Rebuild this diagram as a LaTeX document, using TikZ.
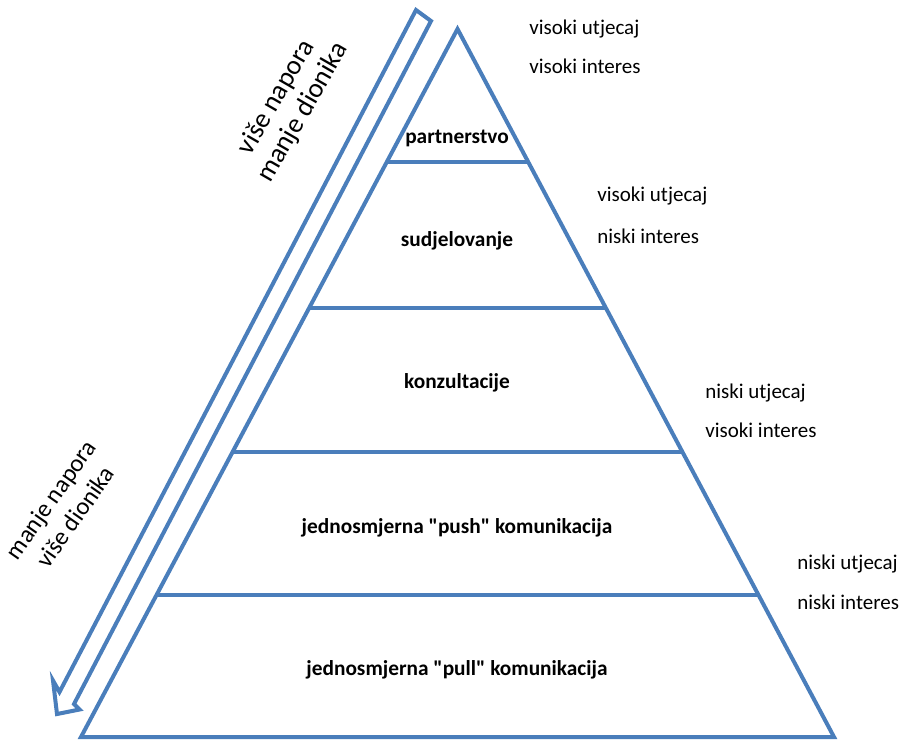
\documentclass[tikz,border=0pt]{standalone}
\usepackage{fontspec}
\setmainfont{Carlito}[Ligatures=TeXOff]
\usetikzlibrary{calc}
\definecolor{pyrblue}{HTML}{4A7EBB}
\begin{document}
\begin{tikzpicture}[x=0.75pt,y=-0.75pt,
  pyr/.style={draw=pyrblue,line width=3pt,line join=miter},
  arr/.style={draw=pyrblue,line width=3pt,line join=miter},
  level/.style={font=\bfseries\fontsize{16}{19}\selectfont,anchor=base,inner sep=0pt},
  side/.style={font=\fontsize{15.75}{19}\selectfont,anchor=base west,inner sep=0pt},
  diag/.style={align=center,inner sep=0pt},
]
\useasboundingbox (0,0) rectangle (912,743);
% pyramid
\coordinate (A) at (457.5,29);
\coordinate (BL) at (81,737);
\coordinate (BR) at (834,737);
\draw[pyr] (A) -- (BL) -- (BR) -- cycle;
\coordinate (L1) at ($(A)!0.1879!(BL)$); \coordinate (R1) at ($(A)!0.1879!(BR)$);
\coordinate (L2) at ($(A)!0.3941!(BL)$); \coordinate (R2) at ($(A)!0.3941!(BR)$);
\coordinate (L3) at ($(A)!0.5975!(BL)$); \coordinate (R3) at ($(A)!0.5975!(BR)$);
\coordinate (L4) at ($(A)!0.7994!(BL)$); \coordinate (R4) at ($(A)!0.7994!(BR)$);
\draw[pyr] (L1) -- (R1);
\draw[pyr] (L2) -- (R2);
\draw[pyr] (L3) -- (R3);
\draw[pyr] (L4) -- (R4);
% hollow arrow
\coordinate (P1) at (416,10);
\coordinate (P2) at (431,21);
\coordinate (SR) at (74,704);
\coordinate (HR) at (79.5,709.5);
\coordinate (T) at (57,714);
\coordinate (HL) at (53,680.5);
\coordinate (SL) at (59.5,692);
\draw[arr] (P1) -- (P2) -- (SR) -- (HR) -- (T) -- (HL) -- (SL) -- cycle;
% level labels
\node[level] (n1) at (457,143) {partnerstvo};
\node[level] (n2) at (457,246) {sudjelovanje};
\node[level] (n3) at (457,388) {konzultacije};
\node[level] (n4) at (457,533) {jednosmjerna "push" komunikacija};
\node[level] (n5) at (457,675) {jednosmjerna "pull" komunikacija};
% side labels
\node[side] (s1a) at (529,34) {visoki utjecaj};
\node[side] (s1b) at (529,73) {visoki interes};
\node[side] (s2a) at (597,201) {visoki utjecaj};
\node[side] (s2b) at (597,243) {niski interes};
\node[side] (s3a) at (705,398) {niski utjecaj};
\node[side] (s3b) at (705,437) {visoki interes};
\node[side] (s4a) at (797,569) {niski utjecaj};
\node[side] (s4b) at (797,609) {niski interes};
% diagonal labels
\node[diag,font=\fontsize{20.5}{23}\selectfont,rotate=60] (d1) at (290,105) {više napora\\manje dionika};
\node[diag,font=\fontsize{18.5}{22.5}\selectfont,rotate=55] (d2) at (63,508) {manje napora\\više dionika};
\end{tikzpicture}
\end{document}
